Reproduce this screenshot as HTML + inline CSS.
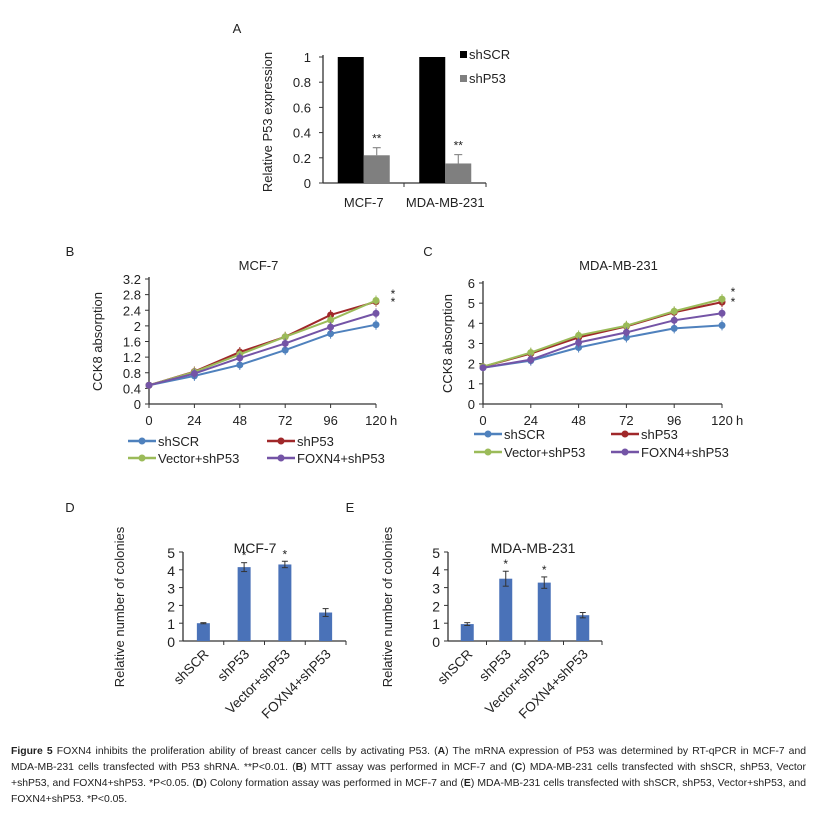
<!DOCTYPE html>
<html><head><meta charset="utf-8"><style>
body{margin:0;background:#fff;width:817px;height:819px;overflow:hidden;font-family:"Liberation Sans",sans-serif}
svg text{font-family:"Liberation Sans",sans-serif}
.cap{position:absolute;left:11px;top:744px;width:795px;font-size:10.4px;line-height:16px;color:#222;font-family:"Liberation Sans",sans-serif}
.cap div{text-align:justify;text-align-last:justify;white-space:nowrap;overflow:hidden}
.cap div.last{text-align-last:left}
</style></head><body>
<svg id="fig" width="817" height="740" style="position:absolute;left:0;top:0"></svg>
<div class="cap">
<div><b>Figure 5</b> FOXN4 inhibits the proliferation ability of breast cancer cells by activating P53. (<b>A</b>) The mRNA expression of P53 was determined by RT-qPCR in MCF-7 and</div>
<div>MDA-MB-231 cells transfected with P53 shRNA. **P&lt;0.01. (<b>B</b>) MTT assay was performed in MCF-7 and (<b>C</b>) MDA-MB-231 cells transfected with shSCR, shP53, Vector</div>
<div>+shP53, and FOXN4+shP53. *P&lt;0.05. (<b>D</b>) Colony formation assay was performed in MCF-7 and (<b>E</b>) MDA-MB-231 cells transfected with shSCR, shP53, Vector+shP53, and</div>
<div class="last">FOXN4+shP53. *P&lt;0.05.</div>
</div>
<script>
// Panel A data
const aCats=["MCF-7","MDA-MB-231"];
const aSCR=[1,1];
const aP53=[0.22,0.155];
const aP53Err=[0.06,0.07];
const aTicks=["0","0.2","0.4","0.6","0.8","1"];
// Panel B/C data
const hours=[0,24,48,72,96,120];
const bSCR=[0.48,0.72,1.0,1.38,1.8,2.03];
const bP53=[0.48,0.83,1.33,1.72,2.28,2.62];
const bVec=[0.48,0.82,1.27,1.72,2.15,2.65];
const bFOX=[0.48,0.78,1.18,1.55,1.97,2.32];
const bTicks=["0","0.4","0.8","1.2","1.6","2","2.4","2.8","3.2"];
const cSCR=[1.8,2.15,2.8,3.3,3.75,3.9];
const cP53=[1.85,2.5,3.3,3.85,4.55,5.05];
const cVec=[1.85,2.55,3.4,3.88,4.6,5.2];
const cFOX=[1.8,2.2,3.05,3.55,4.15,4.5];
const cTicks=["0","1","2","3","4","5","6"];
// Panel D/E data
const colCats=["shSCR","shP53","Vector+shP53","FOXN4+shP53"];
const dVals=[1.0,4.15,4.3,1.6];
const dErr=[0.03,0.25,0.18,0.22];
const eVals=[0.95,3.5,3.28,1.45];
const eErr=[0.08,0.42,0.32,0.15];
const colTicks=["0","1","2","3","4","5"];

const NS="http://www.w3.org/2000/svg";
const svg=document.getElementById('fig');
function mk(tag,attrs,parent,txt){const e=document.createElementNS(NS,tag);for(const k in attrs)e.setAttribute(k,attrs[k]);if(txt!==undefined)e.textContent=txt;(parent||svg).appendChild(e);return e;}
function txt(x,y,s,size,anchor,name,extra){const t=mk('text',Object.assign({x:x,y:y,'font-size':size,'text-anchor':anchor||'middle',fill:'#222'},extra||{}),svg,s);


return t;}
function ln(x1,y1,x2,y2,c,w,name){const l=mk('line',{x1:x1,y1:y1,x2:x2,y2:y2,stroke:c||'#333','stroke-width':w||1});


return l;}

// ---- Panel A ----
txt(237,33,"A",13,'middle','panel-a-label');
(function(){
 const x0=323,x1=486,y0=183,y1=57;const ys=v=>y0-(v/1)*(y0-y1);
 ln(x0,y1-2,x0,y0,'#333',1.3,'a-y-axis');ln(x0,y0,x1,y0,'#333',1.3,'a-x-axis');
 aTicks.forEach((t,i)=>{const v=+t;ln(x0-4,ys(v),x0,ys(v),'#333',1,'a-y-tick');txt(x0-12,ys(v)+5,t,13,'end','a-y-tick-label');});
 ln(404,y0,404,y0+4,'#333',1,'a-x-tick');ln(x1,y0,x1,y0+4,'#333',1,'a-x-tick');
 const cw=(x1-x0)/aCats.length;
 aCats.forEach((c,i)=>{const cx=x0+cw*(i+0.5);const bw=26;
  let r=mk('rect',{x:cx-bw,y:ys(aSCR[i]),width:bw,height:y0-ys(aSCR[i]),fill:'#000'});
  
  
  r=mk('rect',{x:cx,y:ys(aP53[i]),width:bw,height:y0-ys(aP53[i]),fill:'#7f7f7f'});
  
  
  const ex=cx+bw/2,et=ys(aP53[i]+aP53Err[i]);
  ln(ex,ys(aP53[i]),ex,et,'#777',1,'a-error-bar');ln(ex-4,et,ex+4,et,'#777',1,'a-error-cap');
  txt(ex,et-5,"**",12,'middle','a-significance');
  txt(cx,207,c,13,'middle','a-x-tick-label');
 });
 let r=mk('rect',{x:460,y:51,width:7,height:7,fill:'#000'});
 txt(469,59,"shSCR",13,'start','a-legend-shscr');
 r=mk('rect',{x:460,y:75,width:7,height:7,fill:'#7f7f7f'});
 txt(469,83,"shP53",13,'start','a-legend-shp53');
 txt(0,0,"Relative  P53 expression",13,'middle','a-y-axis-title',{transform:'translate(272,122) rotate(-90)'});
})();

// ---- line panels ----
const cols={scr:'#4f81bd',p53:'#a0282a',vec:'#9bbb59',fox:'#7454a6'};
function linePanel(o){
 const {x0,x1,y0,y1,max,ticks,series,pfx}=o;
 const xs=h=>x0+(h/120)*(x1-x0);const ys=v=>y0-(v/max)*(y0-y1);
 ln(x0,y1-2,x0,y0,'#333',1.3,pfx+'-y-axis');ln(x0,y0,x1,y0,'#333',1.3,pfx+'-x-axis');
 ticks.forEach(t=>{const v=+t;ln(x0-4,ys(v),x0,ys(v),'#333',1,pfx+'-y-tick');txt(x0-8,ys(v)+5,t,13,'end',pfx+'-y-tick-label');});
 hours.forEach(h=>{ln(xs(h),y0,xs(h),y0+4,'#333',1,pfx+'-x-tick');txt(xs(h),y0+21,String(h),13,'middle',pfx+'-x-tick-label');});
 txt(x1+14,y0+21,"h",13,'start',pfx+'-x-unit');
 txt((x0+x1)/2+o.tdx,o.ty,o.title,13,'middle',pfx+'-title');
 txt(0,0,"CCK8  absorption",13,'middle',pfx+'-y-axis-title',{transform:`translate(${o.lx},${(y0+y1)/2}) rotate(-90)`});
 series.forEach(s=>{
  const pts=s.v.map((v,i)=>xs(hours[i])+','+ys(v)).join(' ');
  const p=mk('polyline',{points:pts,fill:'none',stroke:s.c,'stroke-width':2});
  
  
  s.v.forEach((v,i)=>{const c=mk('circle',{cx:xs(hours[i]),cy:ys(v),r:3.5,fill:s.c});
   
   
   if(i>0){ln(xs(hours[i]),ys(v)-5,xs(hours[i]),ys(v)+5,s.c,1,pfx+'-error-bar');}
  });
 });
 const L=o.leg;
 [[L.x1,L.r1,'shSCR',cols.scr],[L.x2,L.r1,'shP53',cols.p53],[L.x1,L.r2,'Vector+shP53',cols.vec],[L.x2,L.r2,'FOXN4+shP53',cols.fox]].forEach(e=>{
  ln(e[0],e[1],e[0]+28,e[1],e[3],2.5,pfx+'-legend-line');
  const c=mk('circle',{cx:e[0]+14,cy:e[1],r:3.5,fill:e[3]});
  txt(e[0]+30,e[1]+5,e[2],13,'start',pfx+'-legend-'+e[2].toLowerCase().replace('+','-'));
 });
 o.stars.forEach(s=>txt(s[0],s[1],"*",12,'middle',pfx+'-significance'));
}
txt(70,256,"B",13,'middle','panel-b-label');
linePanel({pfx:'b',x0:149,x1:376,y0:404,y1:279,max:3.2,ticks:bTicks,title:'MCF-7',tdx:-4,ty:270,lx:102,
 series:[{n:'shscr',v:bSCR,c:cols.scr},{n:'shp53',v:bP53,c:cols.p53},{n:'vector-shp53',v:bVec,c:cols.vec},{n:'foxn4-shp53',v:bFOX,c:cols.fox}],
 leg:{x1:128,x2:267,r1:441,r2:458},stars:[[393,298],[393,306]]});
txt(428,256,"C",13,'middle','panel-c-label');
linePanel({pfx:'c',x0:483,x1:722,y0:404,y1:283,max:6,ticks:cTicks,title:'MDA-MB-231',tdx:16,ty:270,lx:452,
 series:[{n:'shscr',v:cSCR,c:cols.scr},{n:'shp53',v:cP53,c:cols.p53},{n:'vector-shp53',v:cVec,c:cols.vec},{n:'foxn4-shp53',v:cFOX,c:cols.fox}],
 leg:{x1:474,x2:611,r1:434,r2:452},stars:[[733,296],[733,306]]});

// ---- bar panels ----
function barPanel(o){
 const {x0,x1,y0,y1,vals,err,pfx}=o;const ys=v=>y0-(v/5)*(y0-y1);const cw=(x1-x0)/colCats.length;
 ln(x0,y1,x0,y0,'#333',1.3,pfx+'-y-axis');ln(x0,y0,x1,y0,'#333',1.3,pfx+'-x-axis');
 colTicks.forEach(t=>{const v=+t;ln(x0-4,ys(v),x0,ys(v),'#333',1,pfx+'-y-tick');txt(x0-8,ys(v)+6,t,14,'end',pfx+'-y-tick-label');});
 colCats.forEach((c,i)=>{const cx=x0+cw*(i+0.5);
  ln(x0+cw*(i+1),y0,x0+cw*(i+1),y0+4,'#333',1,pfx+'-x-tick');
  const r=mk('rect',{x:cx-6.5,y:ys(vals[i]),width:13,height:y0-ys(vals[i]),fill:'#4a72b8'});
  
  
  const t=ys(vals[i]+err[i]),b=ys(vals[i]-err[i]);
  ln(cx,t,cx,b,'#333',1,pfx+'-error-bar');ln(cx-3,t,cx+3,t,'#333',1,pfx+'-error-cap');ln(cx-3,b,cx+3,b,'#333',1,pfx+'-error-cap');
  if(i==1||i==2)txt(cx,t-3,"*",12,'middle',pfx+'-significance');
  txt(0,0,c,13.5,'end',pfx+'-x-tick-label',{transform:`translate(${cx+6},${y0+14}) rotate(-45)`});
 });
 txt(o.tx,o.ty,o.title,14,'middle',pfx+'-title');
 txt(0,0,"Relative  number  of  colonies",13,'middle',pfx+'-y-axis-title',{transform:`translate(${o.lx},607) rotate(-90)`});
}
txt(70,512,"D",13,'middle','panel-d-label');
barPanel({pfx:'d',x0:183,x1:346,y0:641,y1:552,vals:dVals,err:dErr,title:'MCF-7',tx:255,ty:553,lx:124});
txt(350,512,"E",13,'middle','panel-e-label');
barPanel({pfx:'e',x0:448,x1:602,y0:641,y1:552,vals:eVals,err:eErr,title:'MDA-MB-231',tx:533,ty:553,lx:392});
</script>
</body></html>
